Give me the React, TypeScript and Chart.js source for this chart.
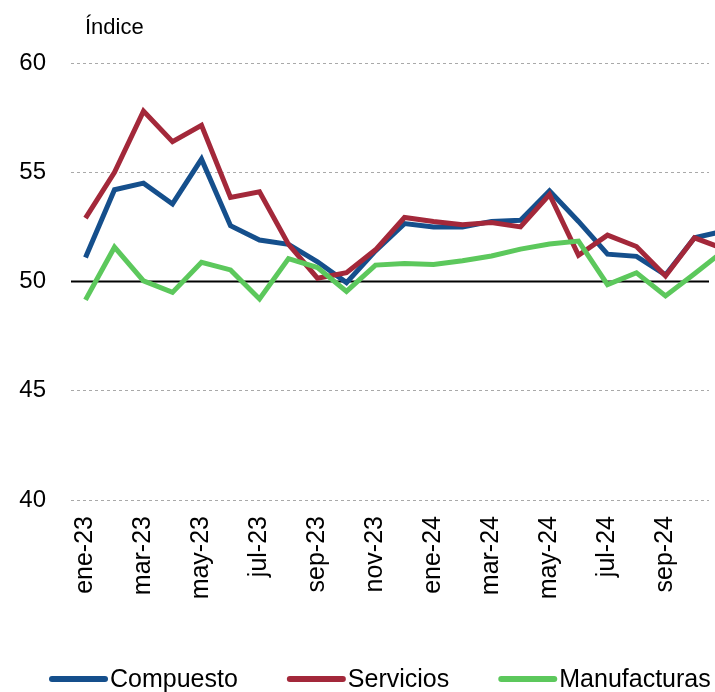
import React, { useEffect, useRef } from "react";
import { Chart, registerables } from "chart.js";

Chart.register(...registerables);

const months = [
  "ene-23", "feb-23", "mar-23", "abr-23", "may-23", "jun-23", "jul-23", "ago-23",
  "sep-23", "oct-23", "nov-23", "dic-23", "ene-24", "feb-24", "mar-24", "abr-24",
  "may-24", "jun-24", "jul-24", "ago-24", "sep-24", "oct-24", "nov-24",
];
// index of the last month shown inside the axis (oct-24); nov-24 runs off the edge
const lastVisibleIndex = 21;
const xTickIndices = [0, 2, 4, 6, 8, 10, 12, 14, 16, 18, 20];

const compuesto = [
  51.1, 54.2, 54.5, 53.55, 55.6, 52.55, 51.9, 51.7, 50.9, 49.95, 51.4, 52.65,
  52.5, 52.5, 52.75, 52.8, 54.15, 52.75, 51.25, 51.15, 50.3, 52.0, 52.3,
];
const servicios = [
  52.9, 55.0, 57.8, 56.4, 57.15, 53.85, 54.1, 51.7, 50.15, 50.4, 51.45, 52.93,
  52.75, 52.6, 52.7, 52.5, 53.98, 51.2, 52.12, 51.6, 50.25, 52.0, 51.5,
];
const manufacturas = [
  49.16, 51.57, 50.03, 49.5, 50.88, 50.53, 49.2, 51.05, 50.64, 49.55, 50.75, 50.82,
  50.78, 50.95, 51.17, 51.48, 51.72, 51.85, 49.86, 50.4, 49.34, 50.35, 51.4,
];

const yTicks = [40, 45, 50, 55, 60];
const seriesNames = ["Compuesto", "Servicios", "Manufacturas"];
const seriesColors = ["#154f8c", "#a3283a", "#5cc85c"];
const titleText = "Índice";

const FONT = "'Liberation Sans', Arial, sans-serif";

export default function App() {
  const canvasRef = useRef<HTMLCanvasElement | null>(null);

  useEffect(() => {
    const canvas = canvasRef.current;
    if (!canvas) return;

    const baseLinePlugin = {
      id: "baseLine",
      beforeDatasetsDraw(chart: any) {
        const { ctx, chartArea, scales } = chart;
        const y = scales.y.getPixelForValue(50);
        ctx.save();
        ctx.strokeStyle = "#000000";
        ctx.lineWidth = 2;
        ctx.beginPath();
        ctx.moveTo(chartArea.left, y);
        ctx.lineTo(chartArea.right, y);
        ctx.stroke();
        ctx.restore();
      },
    };

    const decorPlugin = {
      id: "decor",
      afterDraw(chart: any) {
        const { ctx } = chart;
        ctx.save();
        ctx.fillStyle = "#000";
        ctx.font = `22px ${FONT}`;
        ctx.textBaseline = "alphabetic";
        ctx.textAlign = "left";
        ctx.fillText(titleText, 85, 34);
        ctx.font = `25px ${FONT}`;
        ctx.textBaseline = "middle";
        let x = 52;
        const y = 679;
        const lineLen = 53;
        seriesNames.forEach((name, i) => {
          ctx.strokeStyle = seriesColors[i];
          ctx.lineWidth = 6;
          ctx.lineCap = "round";
          ctx.beginPath();
          ctx.moveTo(x, y);
          ctx.lineTo(x + lineLen, y);
          ctx.stroke();
          ctx.fillStyle = "#000";
          const tx = x + lineLen + 5;
          ctx.fillText(name, tx, y + 1);
          x = tx + ctx.measureText(name).width + 52;
        });
        ctx.restore();
      },
    };

    const datasets = [compuesto, servicios, manufacturas].map((vals, i) => ({
      label: seriesNames[i],
      data: vals.map((v, idx) => ({ x: idx, y: v })),
      borderColor: seriesColors[i],
      backgroundColor: seriesColors[i],
      borderWidth: 5,
      pointRadius: 0,
      pointHoverRadius: 0,
      tension: 0,
      fill: false,
      clip: false as any,
      order: 3 - i,
    }));

    const chart = new Chart(canvas, {
      type: "line",
      data: { datasets },
      options: {
        animation: false,
        responsive: true,
        maintainAspectRatio: false,
        layout: { padding: { top: 63, right: 6, left: 0, bottom: 0 } },
        plugins: {
          legend: { display: false },
          tooltip: { enabled: false },
          title: { display: false },
        },
        scales: {
          x: {
            type: "linear",
            min: -0.5,
            max: lastVisibleIndex + 0.5,
            grid: { display: false, drawTicks: false },
            border: { display: false },
            afterBuildTicks: (scale: any) => {
              scale.ticks = xTickIndices.map((v) => ({ value: v }));
            },
            ticks: {
              autoSkip: false,
              maxRotation: 90,
              minRotation: 90,
              padding: 16,
              color: "#000",
              font: { family: FONT, size: 25 },
              callback: (value: any) => months[value as number] ?? "",
            },
            afterFit: (scale: any) => {
              scale.height = 192;
              scale.paddingLeft = 0;
              scale.paddingRight = 0;
            },
          },
          y: {
            min: yTicks[0],
            max: yTicks[yTicks.length - 1],
            afterBuildTicks: (scale: any) => {
              scale.ticks = yTicks.map((v) => ({ value: v }));
            },
            grid: {
              drawTicks: false,
              lineWidth: 1,
              color: (ctx: any) =>
                ctx.tick && ctx.tick.value === 50 ? "rgba(0,0,0,0)" : "#a9a9a9",
            },
            border: { display: false, dash: [3, 3] },
            ticks: {
              padding: 25,
              color: "#000",
              font: { family: FONT, size: 24 },
            },
            afterFit: (scale: any) => {
              scale.width = 71;
            },
          },
        },
      },
      plugins: [baseLinePlugin, decorPlugin],
    });

    return () => {
      chart.destroy();
    };
  }, []);

  return (
    <div
      style={{
        position: "fixed",
        left: 0,
        top: 0,
        width: 715,
        height: 692,
        background: "#fff",
      }}
    >
      <canvas ref={canvasRef} />
    </div>
  );
}
